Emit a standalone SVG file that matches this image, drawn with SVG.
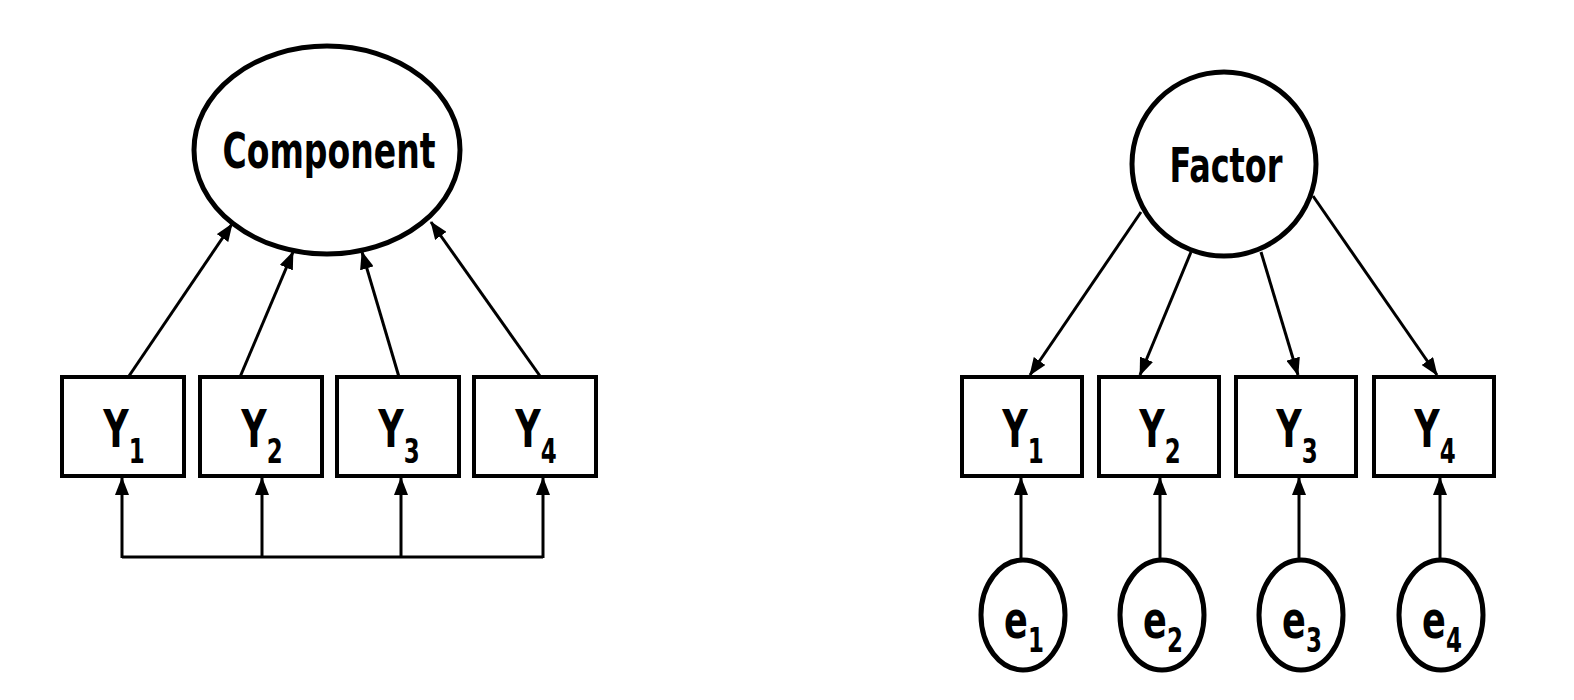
<svg xmlns="http://www.w3.org/2000/svg" width="1574" height="700" viewBox="0 0 1574 700">
<style>
.n{fill:#fff;stroke:#000;stroke-width:5}
.b{fill:#fff;stroke:#000;stroke-width:4}
.t{font-family:"DejaVu Sans Condensed","Open Sans",sans-serif;font-weight:bold;fill:#000}
.c{fill:none;stroke:#000;stroke-width:3}
.s{font-size:34px}
</style>
<defs>
<marker id="ah" markerUnits="userSpaceOnUse" markerWidth="18" markerHeight="14" refX="17" refY="7" orient="auto">
<path d="M0,0 L18,7 L0,14 Z" fill="#000"/>
</marker>
</defs>
<rect width="1574" height="700" fill="#fff"/>
<g id="connectors">
<line class="c" x1="129" y1="376" x2="232" y2="224" marker-end="url(#ah)"/>
<line class="c" x1="240" y1="377" x2="293" y2="252" marker-end="url(#ah)"/>
<line class="c" x1="399" y1="377" x2="362" y2="252" marker-end="url(#ah)"/>
<line class="c" x1="540" y1="376" x2="431" y2="222" marker-end="url(#ah)"/>
<polyline class="c" points="122,557 543,557"/>
<line class="c" x1="122" y1="558" x2="122" y2="478" marker-end="url(#ah)"/>
<line class="c" x1="262" y1="557" x2="262" y2="478" marker-end="url(#ah)"/>
<line class="c" x1="401" y1="557" x2="401" y2="478" marker-end="url(#ah)"/>
<line class="c" x1="543" y1="558" x2="543" y2="478" marker-end="url(#ah)"/>
<line class="c" x1="1141" y1="212" x2="1030" y2="375" marker-end="url(#ah)"/>
<line class="c" x1="1191" y1="252" x2="1140" y2="375" marker-end="url(#ah)"/>
<line class="c" x1="1261" y1="252" x2="1298" y2="375" marker-end="url(#ah)"/>
<line class="c" x1="1313" y1="196" x2="1437" y2="375" marker-end="url(#ah)"/>
<line class="c" x1="1021" y1="562" x2="1021" y2="478" marker-end="url(#ah)"/>
<line class="c" x1="1160" y1="562" x2="1160" y2="478" marker-end="url(#ah)"/>
<line class="c" x1="1299" y1="562" x2="1299" y2="478" marker-end="url(#ah)"/>
<line class="c" x1="1440" y1="562" x2="1440" y2="478" marker-end="url(#ah)"/>
</g>
<g id="component">
<ellipse class="n" cx="327" cy="150" rx="133" ry="104"/>
<text class="t" x="329" y="168" font-size="50" text-anchor="middle" textLength="213" lengthAdjust="spacingAndGlyphs">Component</text>
</g>
<g id="factor">
<circle class="n" cx="1224" cy="164" r="92"/>
<text class="t" x="1226" y="182" font-size="48" text-anchor="middle" textLength="113" lengthAdjust="spacingAndGlyphs">Factor</text>
</g>
<g id="cY1"><rect class="b" x="62" y="377" width="122" height="99"/><text class="t" transform="translate(124,447) scale(0.75,1)" font-size="52" text-anchor="middle">Y<tspan class="s" dy="16">1</tspan></text></g>
<g id="cY2"><rect class="b" x="200" y="377" width="122" height="99"/><text class="t" transform="translate(262,447) scale(0.75,1)" font-size="52" text-anchor="middle">Y<tspan class="s" dy="16">2</tspan></text></g>
<g id="cY3"><rect class="b" x="337" y="377" width="122" height="99"/><text class="t" transform="translate(399,447) scale(0.75,1)" font-size="52" text-anchor="middle">Y<tspan class="s" dy="16">3</tspan></text></g>
<g id="cY4"><rect class="b" x="474" y="377" width="122" height="99"/><text class="t" transform="translate(536,447) scale(0.75,1)" font-size="52" text-anchor="middle">Y<tspan class="s" dy="16">4</tspan></text></g>
<g id="fY1"><rect class="b" x="962" y="377" width="120" height="99"/><text class="t" transform="translate(1023,447) scale(0.75,1)" font-size="52" text-anchor="middle">Y<tspan class="s" dy="16">1</tspan></text></g>
<g id="fY2"><rect class="b" x="1099" y="377" width="120" height="99"/><text class="t" transform="translate(1160,447) scale(0.75,1)" font-size="52" text-anchor="middle">Y<tspan class="s" dy="16">2</tspan></text></g>
<g id="fY3"><rect class="b" x="1236" y="377" width="120" height="99"/><text class="t" transform="translate(1297,447) scale(0.75,1)" font-size="52" text-anchor="middle">Y<tspan class="s" dy="16">3</tspan></text></g>
<g id="fY4"><rect class="b" x="1374" y="377" width="120" height="99"/><text class="t" transform="translate(1435,447) scale(0.75,1)" font-size="52" text-anchor="middle">Y<tspan class="s" dy="16">4</tspan></text></g>
<g id="e1"><ellipse class="n" cx="1023" cy="615" rx="42" ry="55"/><text class="t" transform="translate(1024,638) scale(0.75,1)" font-size="52" text-anchor="middle">e<tspan class="s" dy="14">1</tspan></text></g>
<g id="e2"><ellipse class="n" cx="1162" cy="615" rx="42" ry="55"/><text class="t" transform="translate(1163,638) scale(0.75,1)" font-size="52" text-anchor="middle">e<tspan class="s" dy="14">2</tspan></text></g>
<g id="e3"><ellipse class="n" cx="1301" cy="615" rx="42" ry="55"/><text class="t" transform="translate(1302,638) scale(0.75,1)" font-size="52" text-anchor="middle">e<tspan class="s" dy="14">3</tspan></text></g>
<g id="e4"><ellipse class="n" cx="1441" cy="615" rx="42" ry="55"/><text class="t" transform="translate(1442,638) scale(0.75,1)" font-size="52" text-anchor="middle">e<tspan class="s" dy="14">4</tspan></text></g>
</svg>
